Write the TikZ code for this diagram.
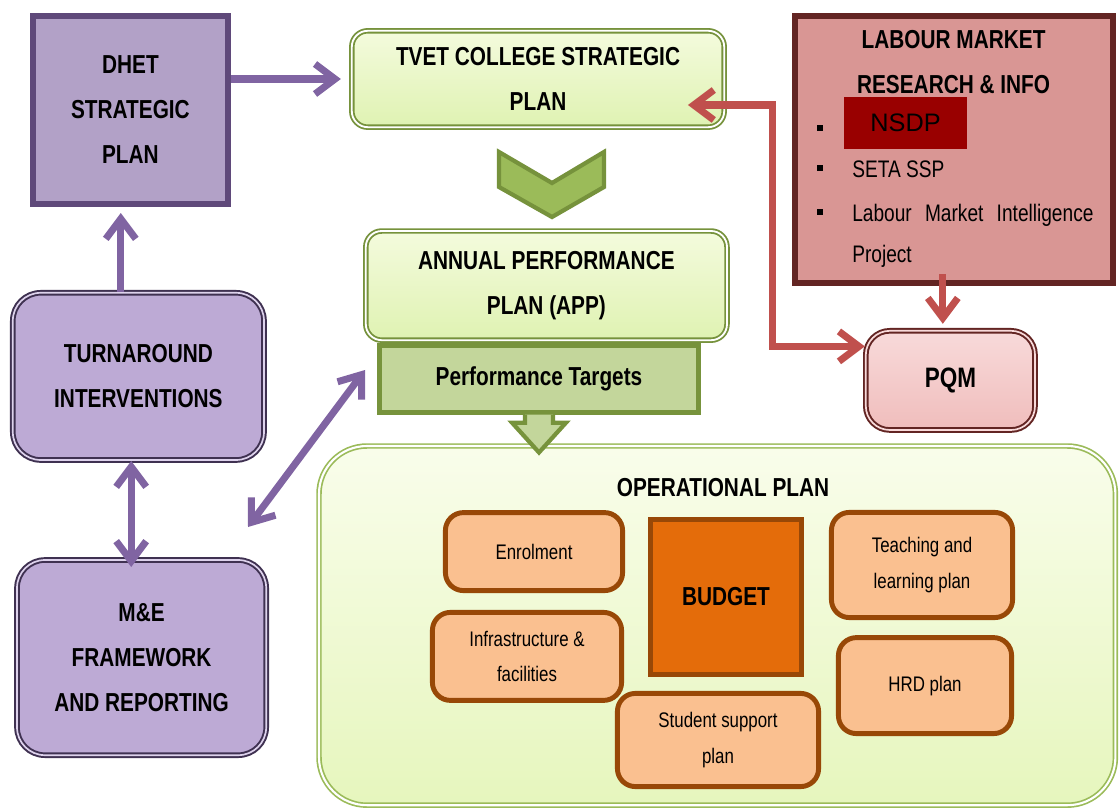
\documentclass[tikz,border=0pt]{standalone}
\usepackage{fontspec}
\setmainfont{Liberation Sans}
\newfontfamily\narrowfont[FakeStretch=0.8]{Liberation Sans}
\usetikzlibrary{arrows.meta}

\definecolor{dhetfill}{HTML}{B2A1C7}
\definecolor{dhetline}{HTML}{5F497A}
\definecolor{turnfill}{HTML}{BDAAD5}
\definecolor{turnline}{HTML}{3F3151}
\definecolor{turnglow}{HTML}{DDD2EC}
\definecolor{plantop}{HTML}{F4FBDD}
\definecolor{planbot}{HTML}{DFF2B2}
\definecolor{planline}{HTML}{76923C}
\definecolor{ptfill}{HTML}{C3D69B}
\definecolor{ptline}{HTML}{77933C}
\definecolor{chevfill}{HTML}{9BBB59}
\definecolor{labfill}{HTML}{D99694}
\definecolor{labline}{HTML}{632523}
\definecolor{nsdpred}{HTML}{990000}
\definecolor{pqmtop}{HTML}{F8DADA}
\definecolor{pqmbot}{HTML}{F0BDBC}
\definecolor{opline}{HTML}{9BBB59}
\definecolor{optop}{HTML}{F9FDEB}
\definecolor{opbot}{HTML}{E6F6BD}
\definecolor{taskfill}{HTML}{FAC090}
\definecolor{taskline}{HTML}{984807}
\definecolor{budgetfill}{HTML}{E46C0A}
\definecolor{arrpurple}{HTML}{8064A2}
\definecolor{arrred}{HTML}{C0504D}

\newcommand\headfont{\narrowfont\bfseries\fontsize{18.5}{32}\selectfont}
\newcommand\taskfont{\narrowfont\fontsize{15}{25.5}\selectfont}
\newcommand\itemfont{\narrowfont\fontsize{17}{30}\selectfont}

\tikzset{
	>={Straight Barb[length=5mm,width=7.5mm]},
	dhetbox/.style={draw=dhetline, fill=dhetfill, line width=4pt, font=\headfont, align=center},
	turnbox/.style={draw=turnline, double=turnglow, line width=1.4pt, double distance=1.2pt,
		fill=turnfill, rounded corners=0.7cm, font=\headfont, align=center},
	planbox/.style={draw=planline, double=white, line width=1.3pt, double distance=1.3pt,
		top color=plantop, bottom color=planbot, rounded corners=0.4cm, font=\headfont, align=center},
	ptbox/.style={draw=ptline, fill=ptfill, line width=3.5pt, font=\headfont},
	labbox/.style={draw=labline, fill=labfill, line width=4pt},
	pqmbox/.style={draw=labline, double=pqmtop, line width=1.4pt, double distance=1.2pt,
		top color=pqmtop, bottom color=pqmbot, rounded corners=0.6cm,
		font=\narrowfont\bfseries\fontsize{20}{24}\selectfont},
	opbox/.style={draw=opline, double=white, line width=1.2pt, double distance=1.5pt,
		top color=optop, bottom color=opbot, rounded corners=1.2cm},
	taskbox/.style={draw=taskline, fill=taskfill, line width=3.5pt, rounded corners=0.45cm,
		font=\taskfont, align=center},
	budgetbox/.style={draw=taskline, fill=budgetfill, line width=4pt, font=\headfont},
	chev/.style={draw=planline, fill=chevfill, line width=3pt},
	blockarr/.style={draw=ptline, fill=ptfill, line width=3pt, line join=miter},
	bullet/.style={fill=black, minimum size=1.7mm, inner sep=0pt},
	labitem/.style={font=\itemfont, anchor=west, inner sep=0pt, text height=12.2pt, text depth=0pt},
	parr/.style={->, draw=arrpurple, line width=5pt},
	rarr/.style={->, draw=arrred, line width=5pt},
}

\begin{document}
\begin{tikzpicture}[x=1cm, y=-1cm]
	\useasboundingbox (0,0) rectangle (27.975,20.275);

	% strategic plans
	\node[dhetbox, minimum width=4.88cm, minimum height=4.71cm] (dhet) at (3.26,2.75) {DHET\\STRATEGIC\\PLAN};
	\node[planbox, minimum width=9.31cm, minimum height=2.41cm] (tvet) at (13.45,1.975) {TVET COLLEGE STRATEGIC\\PLAN};
	\filldraw[chev] (12.475,3.8) -- (13.8,4.575) -- (15.1,3.8) -- (15.1,4.675) -- (13.8,5.425) -- (12.475,4.675) -- cycle;
	\node[ptbox, minimum width=7.96cm, minimum height=1.66cm] (pt) at (13.475,9.475) {Performance Targets};
	\node[planbox, minimum width=9.03cm, minimum height=2.73cm] (app) at (13.66,7.14) {ANNUAL PERFORMANCE\\PLAN (APP)};

	% labour market block
	\node[labbox, minimum width=7.96cm, minimum height=6.68cm] (labour) at (23.85,3.74) {};
	\node[font=\headfont, align=center] (labtitle) at (23.84,1.56) {LABOUR MARKET\\RESEARCH \& INFO};
	\node[fill=nsdpred, minimum width=3.075cm, minimum height=1.3cm, font=\fontsize{18}{20}\selectfont] (nsdp) at (22.64,3.075) {NSDP};
	\node[bullet] (b1) at (20.5,3.2) {};
	\node[bullet] (b2) at (20.5,4.2) {};
	\node[bullet] (b3) at (20.5,5.3) {};
	\node[labitem] (seta) at (21.3,4.225) {SETA SSP};
	\node[labitem] (lmi) at (21.3,5.32) {\makebox[6.03cm][s]{Labour Market Intelligence}};
	\node[labitem] (proj) at (21.3,6.35) {Project};
	\node[pqmbox, minimum width=4.23cm, minimum height=2.48cm] (pqm) at (23.76,9.51) {PQM};

	% monitoring side
	\node[turnbox, minimum width=6.28cm, minimum height=4.18cm] (turn) at (3.46,9.41) {TURNAROUND\\INTERVENTIONS};
	\node[turnbox, minimum width=6.23cm, minimum height=4.88cm] (me) at (3.54,16.44) {M\&E\\FRAMEWORK\\AND REPORTING};

	% operational plan
	\node[opbox, minimum width=19.91cm, minimum height=8.98cm] (op) at (17.93,15.64) {};
	\node[font=\headfont] (optitle) at (18.075,12.2) {OPERATIONAL PLAN};
	\filldraw[blockarr] ([xshift=-3.5mm]pt.south) -- ++(0,0.2) -- ++(-0.325,0) -- ++(0.675,0.745)
		-- ++(0.675,-0.745) -- ++(-0.325,0) -- ++(0,-0.2);
	\node[taskbox, minimum width=4.43cm, minimum height=1.95cm] (enrol) at (13.35,13.79) {Enrolment};
	\node[budgetbox, minimum width=3.78cm, minimum height=3.88cm] (budget) at (18.15,14.925) {BUDGET};
	\node[taskbox, minimum width=4.53cm, minimum height=2.63cm] (teach) at (23.05,14.125) {Teaching and\\learning plan};
	\node[taskbox, minimum width=4.73cm, minimum height=2.2cm] (infra) at (13.175,16.41) {Infrastructure \&\\facilities};
	\node[taskbox, minimum width=5.03cm, minimum height=2.33cm] (student) at (17.95,18.5) {Student support\\plan};
	\node[taskbox, minimum width=4.33cm, minimum height=2.4cm] (hrd) at (23.125,17.14) {HRD plan};

	% connectors
	\coordinate (mefree) at (6.2,13.175);
	\coordinate (ptfree) at (9.125,9.25);
	\draw[parr] (dhet.east |- tvet.west) -- ([xshift=-2.5mm]tvet.west);
	\draw[parr, shorten >=1.5mm] ([xshift=-4.4mm]turn.north) -- ([xshift=-4.4mm]turn.north |- dhet.south);
	\draw[parr, <->, shorten >=-2mm] ([xshift=-1.8mm]turn.south) -- ([xshift=-1.8mm]turn.south |- me.north);
	\draw[parr, <->] (mefree) -- (ptfree);
	\draw[rarr, shorten >=1.5mm] ([xshift=-1.9mm,yshift=3mm]pqm.north |- labour.south) -- ([xshift=-1.9mm]pqm.north);
	\draw[rarr, <->] ([xshift=-9.3mm,yshift=-6.5mm]tvet.east) -| ([xshift=-2.3cm,yshift=8.5mm]pqm.west)
		-- ([yshift=8.5mm]pqm.west);
\end{tikzpicture}
\end{document}
